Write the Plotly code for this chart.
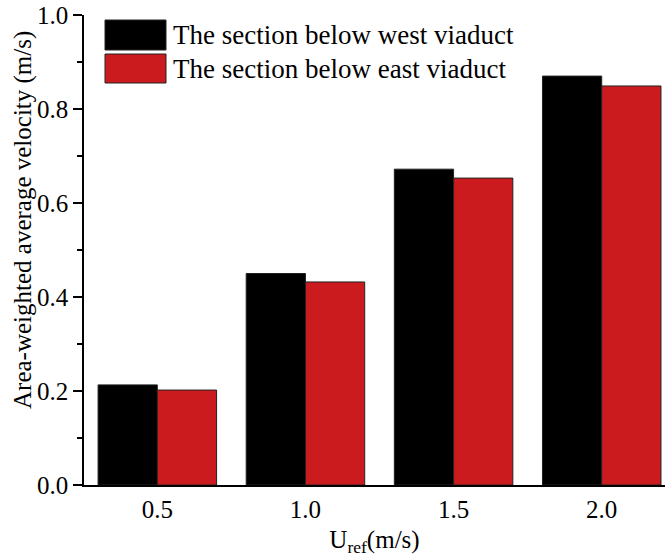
import plotly.graph_objects as go

# Data
u_ref = [0.5, 1.0, 1.5, 2.0]
tick_labels = ["0.5", "1.0", "1.5", "2.0"]
west_viaduct = [0.213, 0.450, 0.672, 0.870]
east_viaduct = [0.202, 0.432, 0.653, 0.849]
series_names = ["The section below west viaduct", "The section below east viaduct"]
series_colors = ["#000000", "#CC1B1F"]
y_title = "Area-weighted average velocity (m/s)"
x_title = "U<sub>ref</sub>(m/s)"

FONT = "Times New Roman, Liberation Serif, serif"

fig = go.Figure()
for name, vals, col in zip(series_names, [west_viaduct, east_viaduct], series_colors):
    fig.add_trace(go.Bar(
        x=u_ref, y=vals, name=name,
        marker=dict(color=col, line=dict(color="#222222", width=1)),
        showlegend=False,
    ))

# Custom legend (large swatches)
L, R, T, B = 84, 665, 15, 485
def px(x):
    return (x - L) / (R - L)
def py(y):
    return (B - y) / (B - T)

sw_rows = [(20, 50), (54, 83)]
for (y0, y1), name, col in zip(sw_rows, series_names, series_colors):
    fig.add_shape(type="rect", xref="paper", yref="paper",
                  x0=px(105), x1=px(166), y0=py(y1), y1=py(y0),
                  fillcolor=col, line=dict(color="#222222", width=1))
    fig.add_annotation(xref="paper", yref="paper", x=px(171), y=py((y0 + y1) / 2),
                       text=name, showarrow=False, xanchor="left", yanchor="middle",
                       font=dict(family=FONT, size=27, color="black"))

# Y-axis title (placed off-centre as in the reference)
fig.add_annotation(xref="paper", yref="paper", x=px(23), y=py(220),
                   text=y_title, textangle=-90, showarrow=False,
                   xanchor="center", yanchor="middle",
                   font=dict(family=FONT, size=25, color="black"))

fig.update_layout(
    width=665, height=557,
    margin=dict(l=L, r=665 - R, t=T, b=557 - B),
    paper_bgcolor="white", plot_bgcolor="white",
    barmode="group", bargap=0.2, bargroupgap=0,
    font=dict(family=FONT, size=24, color="black"),
    xaxis=dict(
        range=[0.2525, 2.2136],
        tickvals=u_ref, ticktext=tick_labels,
        showline=True, linecolor="black", linewidth=1.5,
        ticks="", showgrid=False, zeroline=False,
        ticklabelstandoff=1,
        tickfont=dict(family=FONT, size=25),
        title=dict(text=x_title, font=dict(family=FONT, size=25), standoff=9),
    ),
    yaxis=dict(
        range=[0, 1.0],
        tickvals=[0, 0.2, 0.4, 0.6, 0.8, 1.0], tickformat=".1f",
        showline=True, linecolor="black", linewidth=1.5,
        ticks="outside", ticklen=9, tickwidth=1.5, tickcolor="black",
        minor=dict(dtick=0.1, ticks="outside", ticklen=5, tickwidth=1.5, tickcolor="black"),
        showgrid=False, zeroline=False,
        tickfont=dict(family=FONT, size=25),
    ),
)

fig.write_html("out.html")
